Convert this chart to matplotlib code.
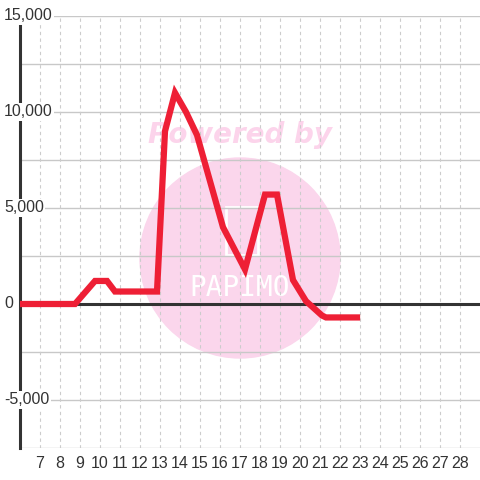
import matplotlib.pyplot as plt
import matplotlib.transforms as mtransforms
from matplotlib.patches import Circle, Rectangle

plt.rcParams['font.family'] = ['Liberation Sans', 'DejaVu Sans']

# values
xs = [5.5, 8.75, 9.75, 10.35, 10.75, 12.85, 13.25, 13.75, 14.3, 14.85,
      16.15, 17.25, 18.25, 18.85, 19.65, 20.3, 21.1, 21.3, 22.85]
ys = [0, 0, 1200, 1200, 650, 650, 9000, 11000, 10000, 8800,
      4000, 1800, 5700, 5700, 1250, 150, -600, -700, -700]
xticks = list(range(7, 29))
yticks = [-5000, 0, 5000, 10000, 15000]
ylabels = ['-5,000', '0', '5,000', '10,000', '15,000']

fig = plt.figure(figsize=(4.8, 4.8), dpi=100)
ax = fig.add_axes([20/480, 32/480, 460/480, 432/480])
ax.set_xlim(6, 29)
ax.set_ylim(-7500, 15000)

# watermark
ax.add_patch(Circle((0.5, 1 - 258/480), 100/480, transform=fig.transFigure,
                    color='#fbd6ec', zorder=0.1))
ax.text(0.5, 1 - 135/480, 'Powered by', transform=fig.transFigure,
        ha='center', va='center', fontsize=20, fontweight='bold',
        style='italic', color='#fcd4eb', family='DejaVu Sans', zorder=0.2)
ax.add_patch(Rectangle((226/480, 1 - 255/480), 32/480, 48/480,
                       transform=fig.transFigure, fill=False,
                       edgecolor='white', lw=2, zorder=0.2))
ax.text(0.5, 1 - 288/480, 'PAPIMO', transform=fig.transFigure,
        ha='center', va='center', fontsize=20, color='white',
        family='DejaVu Sans Mono', zorder=0.2)

# grid
for v in range(-7500, 15001, 2500):
    ax.axhline(v, color='#c8c8c8', lw=1, zorder=0.5)
for v in xticks:
    ax.axvline(v, color='#cccccc', lw=0.8, ls=(0, (3, 3)), zorder=0.5)
ax.axhline(0, color='#333333', lw=2.2, zorder=2)

ax.plot(xs, ys, color='#ee1f35', lw=4.5, solid_joinstyle='miter', zorder=3)

for s in ['top', 'right', 'bottom']:
    ax.spines[s].set_visible(False)
ax.spines['left'].set_color('#333333')
ax.spines['left'].set_linewidth(2.2)
ax.spines['left'].set_zorder(2)

ax.set_xticks(xticks)
ax.set_xticklabels([str(t) for t in xticks])
ax.tick_params(axis='x', length=0, pad=6, labelsize=11.5, labelcolor='#333333')

ax.set_yticks([])
ytrans = mtransforms.blended_transform_factory(fig.transFigure, ax.transData)
for v, lab in zip(yticks, ylabels):
    ax.text(4/480, v, lab, transform=ytrans, ha='left', va='center',
            fontsize=11.5, color='#333333', zorder=4,
            bbox=dict(facecolor='white', edgecolor='none', pad=1))

fig.savefig('out.png', dpi=100)
